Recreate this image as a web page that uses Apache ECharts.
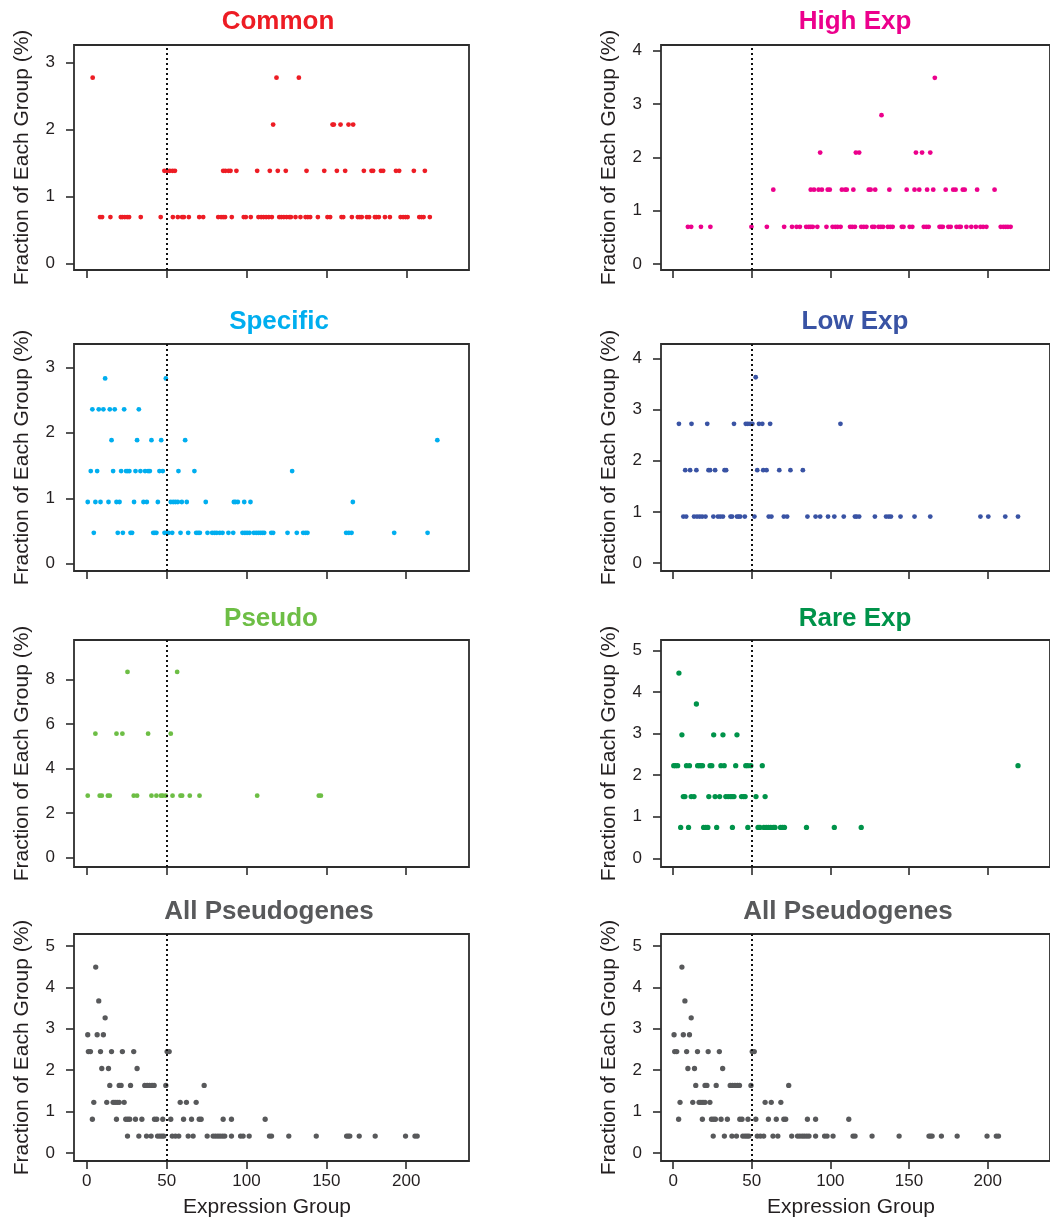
<!DOCTYPE html>
<html>
<head>
<meta charset="utf-8">
<script src="https://cdn.jsdelivr.net/npm/echarts@6/dist/echarts.min.js"></script>
<style>
html,body{margin:0;padding:0;background:#fff;}
#chart{width:1050px;height:1222px;}
</style>
</head>
<body>
<div id="chart"></div>
<script>
// ---------------- DATA ----------------
const X_TICKS = [0, 50, 100, 150, 200];
const THRESHOLD = 50;

// Common
const commonLevels = [0.69, 1.38, 2.07, 2.77];
const commonX = [
  [8.1, 9.4, 14.6, 21.1, 22.1, 23.6, 25.1, 26.3, 33.6, 46.1, 53.7, 56.8, 59.5, 60.6, 63.7, 70.2, 72.7, 82.1, 83.9, 85.2, 86.4, 90.6, 98.1, 99.4, 102.5, 107.3, 109, 110.5, 112.1, 113.8, 115.7, 120.3, 121.6, 123.2, 124.9, 126.6, 127.6, 130.5, 133.6, 136.8, 138.2, 139.7, 144.5, 150.5, 152.2, 159.3, 160.4, 165.8, 169.5, 170.8, 172, 175.2, 176.6, 180.2, 181.2, 182.7, 186.5, 189.6, 196.3, 197.9, 199.4, 200.7, 208, 209.4, 210.7, 214.6],
  [48.4, 50.1, 51.8, 53.5, 55, 85.2, 86.6, 88.5, 89.8, 93.5, 106.5, 114.4, 119.4, 124.4, 137.4, 148.5, 156.4, 161.6, 173.3, 178.1, 179.1, 184, 185.4, 193.4, 195.4, 204.6, 211.5],
  [116.5, 153.7, 154.5, 158.7, 163.7, 166.6],
  [3.5, 118.6, 132.6]
];
const commonYTicks = [0, 1, 2, 3];

// High Exp
const highLevels = [0.697, 1.394, 2.09, 2.79, 3.49];
const highX = [
  [9.4, 11.5, 17.7, 23.7, 49.8, 59.6, 70.6, 75.6, 78.5, 80.6, 84.6, 86.2, 87.5, 88.8, 91.7, 97.5, 101.4, 103.1, 104.6, 106.5, 112.5, 113.9, 115.6, 119.6, 121.2, 122.9, 126.6, 127.9, 130.6, 132.1, 133.5, 136.5, 138.1, 139.6, 145.4, 146.5, 150.4, 152.1, 159.4, 161, 162.5, 169.4, 170.4, 171.5, 175, 176.5, 180.2, 181.9, 182.9, 186.5, 189.6, 192.5, 195.4, 197.1, 199.2, 208.3, 210, 211.5, 212.9, 214.6],
  [63.7, 87.5, 89.6, 92.5, 94.6, 98.3, 99.6, 107.3, 109.4, 110.4, 114.6, 124.4, 125.6, 128.5, 137.5, 148.5, 153.5, 156.5, 161.5, 165.4, 173.3, 178.1, 179.6, 184.2, 185.4, 193.3, 204.4],
  [93.5, 116.2, 118.3, 154.4, 158.3, 163.5],
  [132.5],
  [166.4]
];
const highYTicks = [0, 1, 2, 3, 4];

// Specific
const specLevels = [0.472, 0.943, 1.415, 1.887, 2.358, 2.83];
const specX = [
  [4.4, 19.4, 22.6, 27.4, 28.4, 41.6, 42.6, 43.6, 48.7, 49.9, 51.2, 53.5, 58.7, 63.5, 68.5, 69.7, 70.8, 75.6, 78.5, 80, 81.4, 83.3, 85, 88.7, 91.7, 97.5, 99, 100.4, 101.9, 104.6, 106.1, 107.5, 108.8, 110, 111.1, 115.5, 116.7, 125.7, 131.5, 135.5, 137, 138.2, 162.4, 164.1, 165.8, 192.5, 213.4],
  [0.6, 5.4, 8.6, 13.6, 18.6, 20.5, 29.6, 35.5, 37.6, 44.5, 52.6, 54.1, 55.5, 57, 59.5, 62.6, 74.5, 92.1, 93.1, 94.6, 98.6, 102.5, 166.6],
  [2.5, 6.5, 16.5, 21.5, 24.6, 25.7, 26.7, 30.5, 33.6, 36.5, 38.4, 39.5, 45.5, 47.6, 57.4, 67.4, 128.6],
  [15.5, 31.5, 40.5, 46.6, 61.6, 219.5],
  [3.5, 7.5, 10.4, 14.4, 17.5, 23.4, 32.6],
  [11.5, 49.5]
];
const specYTicks = [0, 1, 2, 3];

// Low Exp
const lowLevels = [0.907, 1.814, 2.72, 3.63];
const lowX = [
  [6.5, 8.3, 13.3, 15.2, 16.9, 18.5, 20.6, 25.6, 28.5, 30, 31.7, 36.5, 37.5, 40.6, 41.7, 42.7, 45.6, 51.7, 60.8, 62.5, 70.4, 72.5, 85.4, 90.6, 93.5, 98.5, 102.5, 108.5, 115.6, 116.7, 118.3, 128.3, 135.4, 137.1, 138.5, 144.6, 153.5, 163.5, 195.4, 200.4, 211.2, 219.3],
  [7.7, 10.8, 14.8, 22.5, 23.5, 26.7, 32.7, 33.7, 53.5, 57.3, 59.4, 67.5, 74.6, 82.5],
  [3.7, 11.7, 21.7, 38.7, 46.2, 47.5, 49, 50.4, 54.6, 56.7, 61.7, 106.4],
  [52.5]
];
const lowYTicks = [0, 1, 2, 3, 4];

// Pseudo
const pseudoLevels = [2.78, 5.56, 8.33];
const pseudoX = [
  [0.6, 8.1, 9.4, 13.2, 14.4, 29.4, 31.5, 40.5, 43.6, 46.4, 47.6, 49.5, 53.7, 58.7, 59.7, 64.5, 70.6, 106.7, 145.3, 146.6],
  [5.4, 18.6, 22.3, 38.4, 52.6],
  [25.5, 56.6]
];
const pseudoYTicks = [0, 2, 4, 6, 8];

// Rare Exp
const rareLevels = [0.742, 1.484, 2.226, 2.968, 3.71, 4.452];
const rareX = [
  [4.8, 9.8, 19.4, 20.8, 22.1, 27.7, 37.7, 47.5, 54, 55.2, 57.7, 59.2, 60.6, 62.1, 63.7, 64.8, 68.3, 69.6, 70.8, 84.8, 102.5, 119.6],
  [6.5, 7.5, 11.5, 13.3, 22.7, 26.7, 29.6, 33.5, 35, 36.5, 37.5, 38.7, 43.5, 44.8, 45.8, 52.7, 58.5],
  [0.4, 1.5, 2.9, 8.5, 10.4, 15.6, 16.7, 17.7, 18.7, 23.5, 24.6, 30.4, 32.5, 39.8, 46.2, 47.5, 49.4, 56.7, 219.3],
  [5.6, 25.8, 31.7, 40.6],
  [14.8],
  [3.7]
];
const rareYTicks = [0, 1, 2, 3, 4, 5];

// All Pseudogenes
const allLevels = [0.408, 0.816, 1.224, 1.633, 2.041, 2.449, 2.857, 3.265, 3.673, 4.49];
const allX = [
  [25.5, 32.6, 37.4, 40.3, 44.3, 45.7, 47, 48.2, 53.5, 55.5, 57.6, 63.5, 66.6, 75.4, 79.1, 80.6, 82.1, 83.5, 85, 86.4, 90.6, 96.3, 97.9, 101.7, 114.4, 115.7, 126.5, 143.7, 162.7, 163.7, 164.7, 170.6, 180.6, 199.6, 205.5, 206.9],
  [3.5, 18.6, 24.4, 25.7, 26.9, 30.5, 34.5, 42.4, 43.8, 47.6, 52.6, 60.6, 65.6, 70.4, 71.6, 85.4, 90.6, 111.7],
  [4.4, 12.5, 16.5, 17.7, 19, 20.3, 23.4, 58.5, 62.4, 68.5],
  [14.4, 20.3, 21.5, 27.4, 36.3, 37.8, 39.3, 40.9, 42.2, 49.5, 73.5],
  [9.4, 13.6, 31.5],
  [1.0, 2.3, 8.6, 15.5, 22.3, 29.4, 50.3, 51.6],
  [0.6, 6.5, 10.4],
  [11.5],
  [7.5],
  [5.6]
];
const allYTicks = [0, 1, 2, 3, 4, 5];

// ---------------- LAYOUT / STYLE ----------------
const FONT = "'Liberation Sans', Arial, Helvetica, sans-serif";
const TEXT = '#231f20';

function pairs(levels, groups) {
  const out = [];
  groups.forEach((g, i) => g.forEach(x => out.push([x, levels[i]])));
  return out;
}

const panels = [
  {title: 'Common', color: '#ED1C24', levels: commonLevels, xs: commonX, yTicks: commonYTicks,
   left: 74, top: 45, height: 225, xMin: -8.2, yMin: -0.1, yMax: 3.258, tx: 278, ty: 22, size: 4.8},
  {title: 'High Exp', color: '#EC008C', levels: highLevels, xs: highX, yTicks: highYTicks,
   left: 661, top: 45, height: 225, xMin: -7.7, yMin: -0.1125, yMax: 4.106, tx: 855, ty: 22, size: 4.8},
  {title: 'Specific', color: '#00AEEF', levels: specLevels, xs: specX, yTicks: specYTicks,
   left: 74, top: 344, height: 227, xMin: -8.0, yMin: -0.111, yMax: 3.356, tx: 279, ty: 322, size: 4.8},
  {title: 'Low Exp', color: '#3953A4', levels: lowLevels, xs: lowX, yTicks: lowYTicks,
   left: 661, top: 344, height: 227, xMin: -7.7, yMin: -0.156, yMax: 4.28, tx: 855, ty: 322, size: 4.8},
  {title: 'Pseudo', color: '#6DBE45', levels: pseudoLevels, xs: pseudoX, yTicks: pseudoYTicks,
   left: 74, top: 640, height: 227, xMin: -8.0, yMin: -0.417, yMax: 9.762, tx: 271, ty: 619, size: 4.8},
  {title: 'Rare Exp', color: '#00934A', levels: rareLevels, xs: rareX, yTicks: rareYTicks,
   left: 661, top: 640, height: 227, xMin: -7.7, yMin: -0.209, yMax: 5.248, tx: 855, ty: 619, size: 5.3},
  {title: 'All Pseudogenes', color: '#58595B', levels: allLevels, xs: allX, yTicks: allYTicks,
   left: 74, top: 934, height: 227, xMin: -8.0, yMin: -0.193, yMax: 5.29, tx: 269, ty: 912, size: 5.3, bottomRow: true},
  {title: 'All Pseudogenes', color: '#58595B', levels: allLevels, xs: allX, yTicks: allYTicks,
   left: 661, top: 934, height: 227, xMin: -7.7, yMin: -0.193, yMax: 5.29, tx: 848, ty: 912, size: 5.3, bottomRow: true}
];

const PLOT_W = 395;
const PX_PER_UNIT = 1.597;

const option = {
  animation: false,
  backgroundColor: '#fff',
  grid: [], xAxis: [], yAxis: [], series: [], graphic: []
};

panels.forEach((p, i) => {
  option.grid.push({
    left: p.left, top: p.top, width: PLOT_W, height: p.height,
    show: true, borderColor: '#2d2d2d', borderWidth: 1.8, backgroundColor: 'transparent',
    containLabel: false
  });
  option.xAxis.push({
    type: 'value', gridIndex: i,
    min: p.xMin, max: p.xMin + PLOT_W / PX_PER_UNIT,
    axisLine: {show: false, onZero: false},
    splitLine: {show: false},
    axisTick: {show: true, inside: false, length: 8, customValues: X_TICKS,
               lineStyle: {color: '#2d2d2d', width: 1.6}},
    axisLabel: {show: !!p.bottomRow, customValues: X_TICKS, margin: 12,
                fontSize: 17, color: TEXT, fontFamily: FONT},
    name: p.bottomRow ? 'Expression Group' : '',
    nameLocation: 'middle', nameGap: 36,
    nameTextStyle: {fontSize: 21, color: TEXT, fontFamily: FONT, padding: [0, 9, 0, 0]}
  });
  option.yAxis.push({
    type: 'value', gridIndex: i,
    min: p.yMin, max: p.yMax,
    axisLine: {show: false, onZero: false},
    splitLine: {show: false},
    axisTick: {show: true, inside: false, length: 8, customValues: p.yTicks,
               lineStyle: {color: '#2d2d2d', width: 1.6}},
    axisLabel: {show: true, customValues: p.yTicks, margin: 19,
                fontSize: 17, color: TEXT, fontFamily: FONT},
    name: 'Fraction of Each Group (%)',
    nameLocation: 'middle', nameGap: 41,
    nameTextStyle: {fontSize: 21, color: TEXT, fontFamily: FONT}
  });
  option.series.push({
    type: 'scatter', xAxisIndex: i, yAxisIndex: i,
    data: pairs(p.levels, p.xs),
    symbol: 'circle', symbolSize: p.size,
    itemStyle: {color: p.color, opacity: 1},
    silent: true,
    markLine: {
      silent: true, symbol: ['none', 'none'], animation: false,
      label: {show: false},
      lineStyle: {color: '#111', type: [2, 3], width: 2},
      data: [{xAxis: THRESHOLD}]
    }
  });
  option.graphic.push({
    type: 'text', x: p.tx, y: p.ty,
    style: {text: p.title, fill: p.color, font: 'bold 26px ' + FONT,
            align: 'center', verticalAlign: 'middle',
            textAlign: 'center', textVerticalAlign: 'middle'}
  });
});

const chart = echarts.init(document.getElementById('chart'), null, {renderer: 'canvas'});
chart.setOption(option);
</script>
</body>
</html>
